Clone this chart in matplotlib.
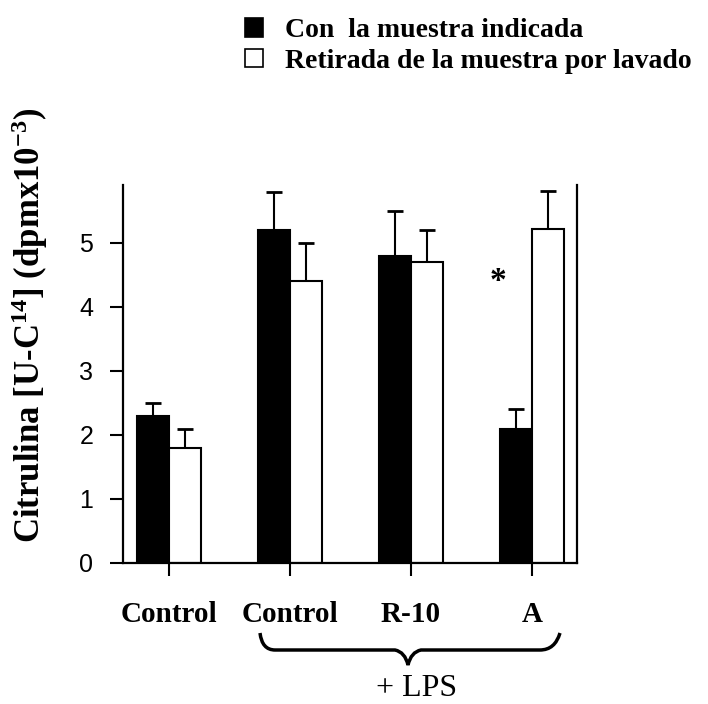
import numpy as np
import matplotlib
matplotlib.use('Agg')
import matplotlib.pyplot as plt
from matplotlib.patches import Patch, PathPatch
from matplotlib.path import Path

# Citrulline production per condition (dpm x 10^-3)
groups = ['Control', 'Control', 'R-10', 'A']
con_muestra = [2.3, 5.2, 4.8, 2.1]
con_muestra_err = [0.2, 0.6, 0.7, 0.3]
retirada = [1.8, 4.4, 4.7, 5.22]
retirada_err = [0.3, 0.6, 0.5, 0.6]
legend_labels = ['Con  la muestra indicada', 'Retirada de la muestra por lavado']
signif_group = 3
signif_y = 4.4

plt.rcParams['mathtext.fontset'] = 'custom'
plt.rcParams['mathtext.rm'] = 'Liberation Serif:bold'
plt.rcParams['mathtext.it'] = 'Liberation Serif:bold'
plt.rcParams['mathtext.bf'] = 'Liberation Serif:bold'

W, H = 708, 704
fig = plt.figure(figsize=(W / 100, H / 100), dpi=100)
ax = fig.add_axes([123 / W, 1 - 563 / H, 454 / W, 378 / H])

x = np.arange(len(groups))
w = 0.265
ax.bar(x - w / 2, con_muestra, w, color='black', edgecolor='black', linewidth=1.5)
ax.bar(x + w / 2, retirada, w, color='white', edgecolor='black', linewidth=1.5)

# upper-only error bars, lower cap hidden
for xs, ys, es in [(x - w / 2, con_muestra, con_muestra_err),
                   (x + w / 2, retirada, retirada_err)]:
    eb = ax.errorbar(xs, ys, yerr=[np.zeros(len(es)), es], fmt='none', ecolor='black',
                     elinewidth=1.5, capsize=6, capthick=2)
    eb[1][0].set_visible(False)

ax.text(signif_group - w * 1.05, signif_y, '*', ha='center', va='center',
        fontsize=24, fontweight='bold', family='Liberation Serif')

ax.set_xlim(-0.38, 3.372)
ax.set_ylim(0, 5.906)
ax.spines['top'].set_visible(False)
for s in ['left', 'bottom', 'right']:
    ax.spines[s].set_linewidth(1.6)

ax.set_yticks(range(6))
ax.set_yticklabels([str(v) for v in range(6)], family='Liberation Sans', fontsize=18)
ax.tick_params(axis='y', direction='out', length=9.5, width=1.5, pad=12)
ax.set_xticks(x)
ax.set_xticklabels(groups, family='Liberation Serif', fontweight='bold', fontsize=21)
ax.tick_params(axis='x', direction='out', length=9.5, width=1.5, pad=18)

fig.text(30 / W, 1 - 325 / H, 'Citrulina [U-C$^{14}$] (dpmx10$^{-3}$)', rotation=90,
         ha='center', va='center', family='Liberation Serif', fontweight='bold',
         fontsize=25)

# curly brace under the LPS-treated groups (figure pixel coords, y downward)
def px(p):
    return (p[0] / W, 1 - p[1] / H)

verts = [(260, 633), (262, 650), (275, 650), (285, 650),
         (395, 650), (395, 650), (405, 652), (408, 665), (408, 665),
         (411, 652), (421, 650), (421, 650),
         (540, 650), (540, 650), (555, 650), (560, 633)]
codes = [Path.MOVETO, Path.CURVE3, Path.CURVE3, Path.LINETO,
         Path.LINETO, Path.LINETO, Path.CURVE3, Path.CURVE3, Path.LINETO,
         Path.CURVE3, Path.CURVE3, Path.LINETO,
         Path.LINETO, Path.LINETO, Path.CURVE3, Path.CURVE3]
brace = PathPatch(Path([px(v) for v in verts], codes), facecolor='none',
                  edgecolor='black', linewidth=2.5, transform=fig.transFigure)
fig.patches.append(brace)
fig.text(417 / W, 1 - 703 / H, '+ LPS', ha='center', va='bottom',
         family='Liberation Serif', fontsize=23)

handles = [Patch(facecolor='black', edgecolor='black', linewidth=1.2),
           Patch(facecolor='white', edgecolor='black', linewidth=1.2)]
fig.legend(handles, legend_labels, loc='upper left', bbox_to_anchor=(245 / W, 1 - 18 / H),
           frameon=False, borderpad=0, borderaxespad=0, handlelength=0.65,
           handleheight=0.65, handletextpad=0.8, labelspacing=0.2,
           prop=dict(family='Liberation Serif', weight='bold', size=20))

fig.savefig('out.png', dpi=100)
